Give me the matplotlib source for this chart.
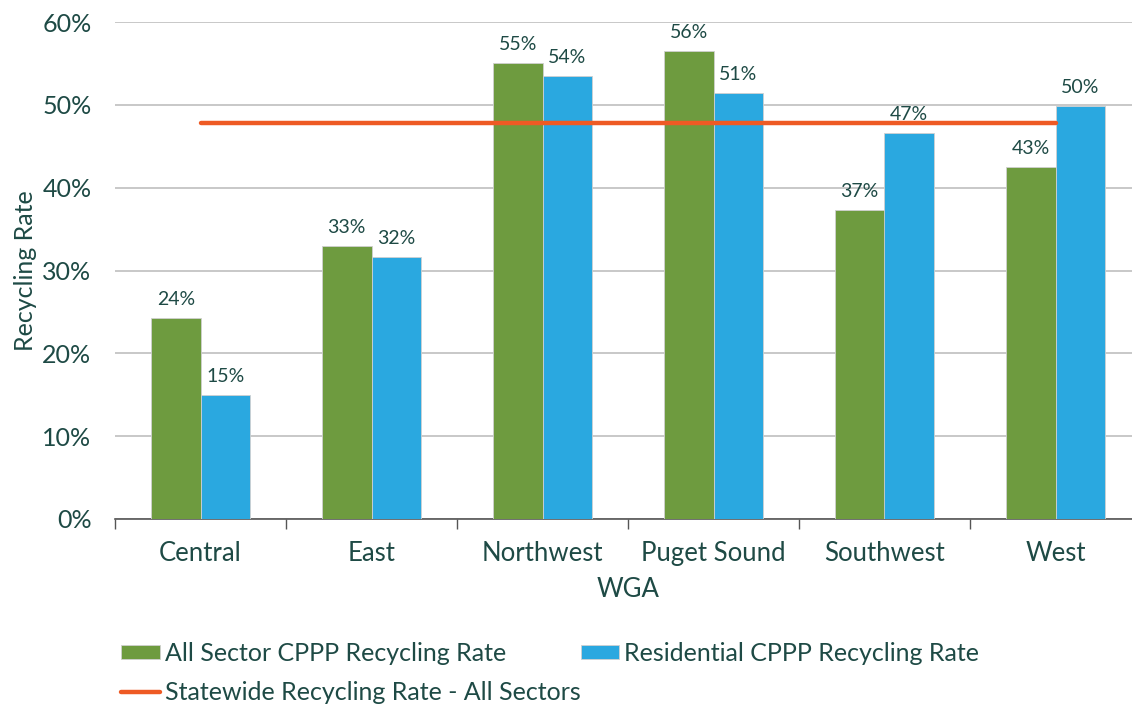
import matplotlib
matplotlib.use("Agg")
import matplotlib.pyplot as plt
import numpy as np

categories = ["Central", "East", "Northwest", "Puget Sound", "Southwest", "West"]
all_sector = [24.3, 33.0, 55.1, 56.5, 37.3, 42.5]
residential = [15.0, 31.6, 53.5, 51.4, 46.6, 49.9]
all_labels = ["24%", "33%", "55%", "56%", "37%", "43%"]
res_labels = ["15%", "32%", "54%", "51%", "47%", "50%"]
statewide = 47.8

GREEN = "#6E9B3F"
BLUE = "#2AA8E0"
ORANGE = "#EE5A24"
TXT = "#1E4A45"

plt.rcParams['font.family'] = ['Lato', 'DejaVu Sans']

fig = plt.figure(figsize=(11.32, 7.08), dpi=100)
ax = fig.add_axes([115/1132, 1-519/708, 1026/1132, 497/708])

x = np.arange(len(categories))
w = 0.29
b1 = ax.bar(x - w/2, all_sector, w, color=GREEN, edgecolor="#D0D0D0", linewidth=0.6,
            label="All Sector CPPP Recycling Rate", zorder=3)
b2 = ax.bar(x + w/2, residential, w, color=BLUE, edgecolor="#D0D0D0", linewidth=0.6,
            label="Residential CPPP Recycling Rate", zorder=3)
ln, = ax.plot([x[0], x[-1]], [statewide, statewide], color=ORANGE, lw=3.2,
              solid_capstyle="round", label="Statewide Recycling Rate - All Sectors", zorder=4)

for xi, v, t in zip(x - w/2, all_sector, all_labels):
    ax.text(xi, v + 1.2, t, ha="center", va="bottom", fontsize=14, color=TXT)
for xi, v, t in zip(x + w/2, residential, res_labels):
    ax.text(xi, v + 1.2, t, ha="center", va="bottom", fontsize=14, color=TXT)

ax.set_xlim(-0.5, len(categories) - 0.5)
ax.set_ylim(0, 60)
ax.set_yticks(np.arange(0, 61, 10))
ax.set_yticklabels([f"{v}%" for v in range(0, 61, 10)], fontsize=18, color=TXT)
ax.yaxis.grid(True, color="#BFBFBF", lw=1.2, zorder=0)
ax.set_axisbelow(True)
ax.tick_params(axis="y", length=0, pad=17)
ax.set_xticks(x)
ax.set_xticklabels(categories, fontsize=18.5, color=TXT)
ax.set_xticks(np.arange(-0.5, len(categories), 1), minor=True)
ax.tick_params(axis="x", which="major", length=0, pad=16)
ax.tick_params(axis="x", which="minor", length=7, color="#555555", width=1)
for s in ["top", "right", "left"]:
    ax.spines[s].set_visible(False)
ax.spines["bottom"].set_color("#555555")
ax.spines["bottom"].set_linewidth(1.2)

ax.set_ylabel("Recycling Rate", fontsize=18, color=TXT, labelpad=4)
ax.set_xlabel("WGA", fontsize=18.5, color=TXT, labelpad=8)

leg = fig.legend(handles=[b1, ln, b2],
                 labels=["All Sector CPPP Recycling Rate", "Statewide Recycling Rate - All Sectors",
                         "Residential CPPP Recycling Rate"],
                 ncol=2, loc="upper left", bbox_to_anchor=(121/1132, 1-642/708),
                 frameon=False, fontsize=18, handlelength=1.55, handleheight=0.5,
                 columnspacing=0.0, handletextpad=0.2, labelspacing=0.65,
                 borderpad=0, borderaxespad=0)
for t in leg.get_texts():
    t.set_color(TXT)

fig.savefig("out.png", dpi=100)
